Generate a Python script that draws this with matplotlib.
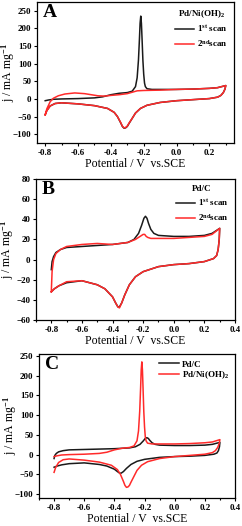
import numpy as np
import matplotlib
matplotlib.use("Agg")
import matplotlib.pyplot as plt
from matplotlib.ticker import MultipleLocator

plt.rcParams['font.family'] = ['Liberation Serif', 'DejaVu Serif']
plt.rcParams['font.weight'] = 'bold'
plt.rcParams['mathtext.fontset'] = 'custom'
plt.rcParams['mathtext.rm'] = 'Liberation Serif:bold'
plt.rcParams['mathtext.bf'] = 'Liberation Serif:bold'
plt.rcParams['mathtext.default'] = 'bf'

# --- Pd/Ni(OH)2, 1st scan (anodic branch, then cathodic branch) ---
a1_fwd_x = [-0.80, -0.78, -0.75, -0.70, -0.60, -0.50, -0.45, -0.40, -0.35, -0.30, -0.27, -0.25,
            -0.24, -0.232, -0.226, -0.222, -0.218, -0.214, -0.21, -0.205, -0.20, -0.195, -0.19,
            -0.18, -0.15, -0.10, 0.00, 0.10, 0.20, 0.25, 0.30]
a1_fwd_y = [-5, -3, -1, 0, 1, 3, 6, 12, 16, 18, 22, 35,
            60, 110, 170, 215, 235, 215, 170, 110, 70, 45, 35,
            29, 27, 27, 27, 28, 30, 32, 38]
a1_bwd_x = [0.30, 0.295, 0.285, 0.27, 0.25, 0.20, 0.10, 0.00, -0.10, -0.18, -0.22, -0.25, -0.27,
            -0.29, -0.30, -0.31, -0.32, -0.33, -0.34, -0.36, -0.38, -0.42, -0.50, -0.60, -0.70,
            -0.74, -0.77, -0.79, -0.80]
a1_bwd_y = [38, 28, 18, 10, 5, 1, -2, -5, -10, -18, -27, -40, -55,
            -70, -78, -82, -83, -78, -68, -50, -38, -27, -19, -14, -11,
            -13, -20, -33, -45]

# --- Pd/Ni(OH)2, 2nd scan ---
a2_fwd_x = [-0.80, -0.79, -0.77, -0.75, -0.72, -0.68, -0.62, -0.56, -0.52, -0.48, -0.44, -0.40,
            -0.35, -0.30, -0.27, -0.24, -0.20, -0.10, 0.00, 0.10, 0.20, 0.25, 0.30]
a2_fwd_y = [-45, -28, -8, 2, 9, 14, 17, 15, 12, 9, 8, 10,
            12, 15, 19, 23, 24, 25, 27, 28, 30, 32, 38]
a2_bwd_x = a1_bwd_x
a2_bwd_y = [38, 28, 18, 10, 5, 1, -2, -5, -10, -18, -27, -40, -55,
            -69, -77, -81, -82, -77, -67, -50, -38, -27, -19, -14, -11,
            -13, -20, -33, -45]

# --- Pd/C, 1st scan ---
b1_fwd_x = [-0.80, -0.795, -0.785, -0.77, -0.74, -0.70, -0.60, -0.50, -0.40, -0.30, -0.26, -0.23,
            -0.21, -0.195, -0.185, -0.175, -0.165, -0.15, -0.13, -0.10, 0.00, 0.10, 0.20, 0.25, 0.30]
b1_fwd_y = [-10, -2, 3, 7, 10, 12, 13, 14, 15, 17, 20, 26,
            34, 41, 43, 41, 36, 30, 26, 24, 23, 23, 24, 26, 31]
b1_bwd_x = [0.30, 0.297, 0.29, 0.28, 0.26, 0.20, 0.10, 0.00, -0.10, -0.20, -0.25, -0.29, -0.32,
            -0.34, -0.355, -0.365, -0.38, -0.40, -0.45, -0.50, -0.60, -0.70, -0.75, -0.78, -0.80]
b1_bwd_y = [31, 20, 10, 4, 1, -2, -4, -5, -7, -12, -17, -25, -35,
            -43, -47, -47, -43, -37, -29, -25, -21, -23, -26, -29, -32]

# --- Pd/C, 2nd scan ---
b2_fwd_x = [-0.80, -0.795, -0.785, -0.77, -0.74, -0.70, -0.60, -0.50, -0.40, -0.30, -0.25, -0.22,
            -0.20, -0.19, -0.18, -0.17, -0.15, -0.10, 0.00, 0.10, 0.20, 0.25, 0.30]
b2_fwd_y = [-32, -12, 0, 6, 10, 13, 15, 16, 15, 17, 20, 23,
            25, 25, 23, 22, 21, 21, 21, 22, 23, 25, 31]
b2_bwd_x = b1_bwd_x
b2_bwd_y = [31, 20, 10, 4, 1, -2, -4, -5, -7, -12, -17, -25, -35,
            -43, -48, -47, -43, -37, -29, -25, -21, -22, -26, -29, -32]

black = '#1a1a1a'
red = '#ff2a2a'


def cv(ax, fx, fy, bx, by, color, label):
    ax.plot(list(fx) + list(bx), list(fy) + list(by), color=color, lw=1.1, label=label)


def style(ax, xlim, ylim, ystep, letter):
    ax.set_xlim(*xlim)
    ax.set_ylim(*ylim)
    ax.xaxis.set_major_locator(MultipleLocator(0.2))
    ax.xaxis.set_minor_locator(MultipleLocator(0.1))
    ax.yaxis.set_major_locator(MultipleLocator(ystep))
    ax.tick_params(which='both', direction='out', labelsize=6.5, pad=1.5)
    ax.tick_params(which='major', length=2.5, width=0.8)
    ax.tick_params(which='minor', length=1.5, width=0.8)
    ax.xaxis.set_major_formatter(plt.FuncFormatter(lambda v, p: f"{v:.1f}"))
    for s in ax.spines.values():
        s.set_linewidth(0.9)
    ax.set_xlabel('Potential / V  vs.SCE', fontsize=8.5, labelpad=1)
    ax.set_ylabel('j / mA mg$^{-1}$', fontsize=8.5)
    ax.yaxis.set_label_coords(-0.1, 0.5)
    ax.text(0.03, 0.985, letter, transform=ax.transAxes, ha='left', va='top', fontsize=14)


fig = plt.figure(figsize=(2.42, 5.26), dpi=100)
W, H = 242, 526


def add_ax(l, t, r, b):
    return fig.add_axes([l / W, 1 - b / H, (r - l) / W, (b - t) / H])


leg_kw = dict(loc='upper right', frameon=False, fontsize=6.5, title_fontsize=6.5,
              handlelength=2.2, handletextpad=0.3, borderaxespad=0.3)

axA = add_ax(37, 2, 234, 143)
cv(axA, a1_fwd_x, a1_fwd_y, a1_bwd_x, a1_bwd_y, black, '1$^{st}$ scan')
cv(axA, a2_fwd_x, a2_fwd_y, a2_bwd_x, a2_bwd_y, red, '2$^{nd}$scan')
style(axA, (-0.85, 0.35), (-125, 275), 50, 'A')
axA.legend(title='Pd/Ni(OH)$_2$', labelspacing=0.45, **leg_kw)

axB = add_ax(36, 179, 235, 320)
cv(axB, b1_fwd_x, b1_fwd_y, b1_bwd_x, b1_bwd_y, black, '1$^{st}$ scan')
cv(axB, b2_fwd_x, b2_fwd_y, b2_bwd_x, b2_bwd_y, red, '2$^{nd}$scan')
style(axB, (-0.9, 0.4), (-60, 80), 20, 'B')
axB.legend(title='Pd/C', labelspacing=0.45, **leg_kw)

axC = add_ax(39, 354, 235, 498)
cv(axC, b1_fwd_x, b1_fwd_y, b1_bwd_x, b1_bwd_y, black, 'Pd/C')
cv(axC, a1_fwd_x, a1_fwd_y, a1_bwd_x, a1_bwd_y, red, 'Pd/Ni(OH)$_2$')
style(axC, (-0.9, 0.4), (-110, 255), 50, 'C')
axC.legend(labelspacing=0.1, **leg_kw)

fig.savefig('out.png', dpi=100)
